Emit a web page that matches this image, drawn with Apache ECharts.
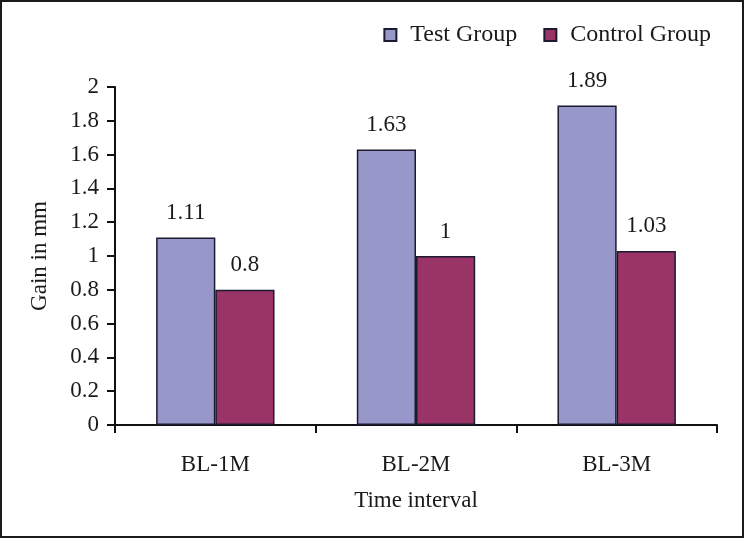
<!DOCTYPE html>
<html>
<head>
<meta charset="utf-8">
<script src="https://cdn.jsdelivr.net/npm/echarts@6/dist/echarts.min.js"></script>
<style>
html,body{margin:0;padding:0;background:#fff;}
#wrap{position:relative;width:744px;height:538px;}
#chart{width:744px;height:538px;}
#frame{position:absolute;left:0;top:0;width:744px;height:538px;box-sizing:border-box;border:2px solid #1a1a1a;pointer-events:none;}
</style>
</head>
<body>
<div id="wrap"><div id="chart"></div><div id="frame"></div></div>
<script>
const categories = ['BL-1M', 'BL-2M', 'BL-3M'];
const testGroup = [1.11, 1.63, 1.89];
const controlGroup = [0.8, 1, 1.03];
const seriesNames = ['Test Group', 'Control Group'];

const font = 'Liberation Serif';
const fs = 23;
const chart = echarts.init(document.getElementById('chart'));
chart.setOption({
  animation: false,
  textStyle: { fontFamily: font, color: '#1a1a1a' },
  legend: {
    top: 18, right: 28,
    itemWidth: 12, itemHeight: 12, itemGap: 26,
    icon: 'rect',
    textStyle: { fontFamily: font, fontSize: 24, color: '#1a1a1a', padding: [0, 0, 0, 9] },
    data: seriesNames
  },
  grid: { left: 115, right: 27, top: 87, bottom: 113 },
  xAxis: {
    type: 'category',
    data: categories,
    name: 'Time interval',
    nameLocation: 'middle',
    nameGap: 64,
    nameTextStyle: { fontFamily: font, fontSize: fs, color: '#1a1a1a' },
    axisLine: { lineStyle: { color: '#111', width: 2 } },
    axisTick: { show: true, length: 8, lineStyle: { color: '#111', width: 2 } },
    axisLabel: { fontFamily: font, fontSize: fs, color: '#1a1a1a', margin: 28 }
  },
  yAxis: {
    type: 'value',
    min: 0, max: 2, interval: 0.2,
    name: 'Gain in mm',
    nameLocation: 'middle',
    nameGap: 64,
    nameTextStyle: { fontFamily: font, fontSize: fs, color: '#1a1a1a' },
    axisLine: { show: true, lineStyle: { color: '#111', width: 2 } },
    axisTick: { show: true, length: 8, lineStyle: { color: '#111', width: 2 } },
    splitLine: { show: false },
    axisLabel: { fontFamily: font, fontSize: fs, color: '#1a1a1a', margin: 16 }
  },
  series: [
    {
      name: seriesNames[0], type: 'bar', data: testGroup,
      barGap: '0%', barCategoryGap: '41%',
      itemStyle: { color: '#9797c9', borderColor: '#1c1a30', borderWidth: 1.5 },
      label: { show: true, position: 'top', distance: 13, fontFamily: font, fontSize: fs, color: '#1a1a1a' }
    },
    {
      name: seriesNames[1], type: 'bar', data: controlGroup,
      barGap: '0%', barCategoryGap: '41%',
      itemStyle: { color: '#9a3366', borderColor: '#1c1a30', borderWidth: 1.5 },
      label: { show: true, position: 'top', distance: 13, fontFamily: font, fontSize: fs, color: '#1a1a1a' }
    }
  ]
});
</script>
</body>
</html>
